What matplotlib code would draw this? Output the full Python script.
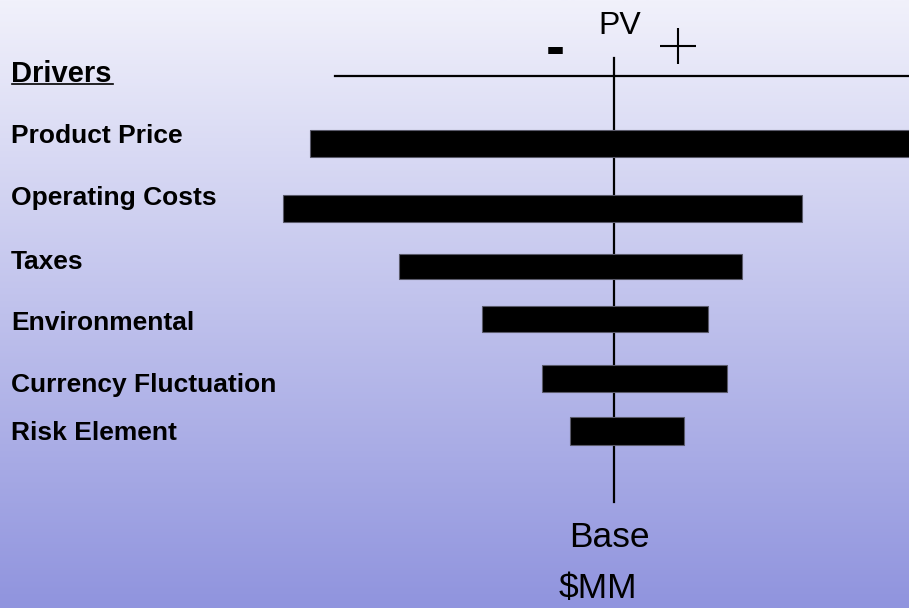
import numpy as np
import matplotlib
matplotlib.use("Agg")
import matplotlib.pyplot as plt
from matplotlib.transforms import blended_transform_factory

# tornado data, $MM relative to base case
drivers = ["Product Price", "Operating Costs", "Taxes", "Environmental",
           "Currency Fluctuation", "Risk Element"]
low = [-30.4, -33.1, -21.5, -13.2, -7.2, -4.4]
high = [30.0, 18.8, 12.8, 9.4, 11.3, 7.0]

# layout (pixel rows of the slide)
bar_y = [143.5, 208.5, 266.5, 319, 378.5, 431]
bar_h = [27, 27, 25, 26, 27, 28]
label_y = [143, 205, 269, 330, 392, 440]

fig = plt.figure(figsize=(9.09, 6.08), dpi=100)
ax = fig.add_axes([0, 0, 1, 1])
ax.set_xlim(-61.4, 29.5)
ax.set_ylim(608, 0)
ax.axis("off")

# background gradient
top = np.array([241, 241, 251]) / 255
bot = np.array([144, 148, 222]) / 255
t = np.linspace(0, 1, 256)[:, None]
grad = (top * (1 - t) + bot * t)[:, None, :]
ax.imshow(grad, extent=(-61.4, 29.5, 608, 0), aspect="auto", zorder=0)

ax.plot([0, 0], [58, 502], color="black", lw=1.6, zorder=2)
ax.plot([-27.9, 29.5], [75.5, 75.5], color="black", lw=1.6, zorder=2)

ax.barh(bar_y, np.array(high) - np.array(low), left=low, height=bar_h,
        color="black", edgecolor="#5a5a6a", linewidth=0.8, zorder=3)

tr = blended_transform_factory(ax.transAxes, ax.transData)
ax.text(11 / 909, 81.5, "Drivers", transform=tr, fontsize=21, fontweight="bold",
        family="Liberation Sans", va="baseline", ha="left")
ax.plot([12 / 909, 113 / 909], [84, 84], transform=tr, color="black", lw=1.2)
for name, y in zip(drivers, label_y):
    ax.text(11 / 909, y, name, transform=tr, fontsize=19, fontweight="bold",
            family="Liberation Sans", va="baseline", ha="left")

ax.text(0.6, 34, "PV", fontsize=23, family="Liberation Sans",
        ha="center", va="baseline")
ax.text(-5.9, 65.5, "-", fontsize=41, fontweight="bold", family="Liberation Sans",
        ha="center", va="baseline")
ax.plot([6.4], [45.5], marker="+", markersize=26, mew=1.5, color="black")
ax.text(-0.5, 547, "Base", fontsize=25.5, family="Liberation Sans",
        ha="center", va="baseline")
ax.text(-1.6, 598, "$MM", fontsize=25.5, family="Liberation Sans",
        ha="center", va="baseline")

fig.savefig("out.png", dpi=100)
